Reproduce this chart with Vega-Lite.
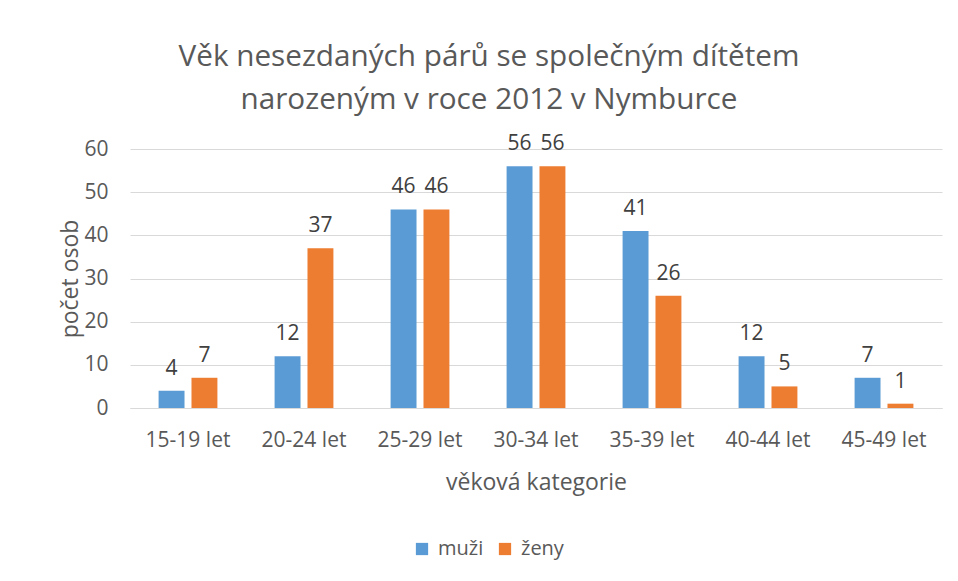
{
  "$schema": "https://vega.github.io/schema/vega-lite/v6.json",
  "autosize": "none",
  "width": 812,
  "height": 259,
  "padding": {"left": 130, "top": 149, "right": 16, "bottom": 173},
  "background": "white",
  "title": {
    "text": ["Věk nesezdaných párů se společným dítětem", "narozeným v roce 2012 v Nymburce"],
    "font": "Open Sans",
    "fontSize": 29.7,
    "fontWeight": "normal",
    "color": "#595959",
    "lineHeight": 43,
    "anchor": "middle",
    "dx": -47,
    "offset": 18
  },
  "data": {
    "values": [
      {"kat": "15-19 let", "pohlavi": "muži", "pocet": 4},
      {"kat": "15-19 let", "pohlavi": "ženy", "pocet": 7},
      {"kat": "20-24 let", "pohlavi": "muži", "pocet": 12},
      {"kat": "20-24 let", "pohlavi": "ženy", "pocet": 37},
      {"kat": "25-29 let", "pohlavi": "muži", "pocet": 46},
      {"kat": "25-29 let", "pohlavi": "ženy", "pocet": 46},
      {"kat": "30-34 let", "pohlavi": "muži", "pocet": 56},
      {"kat": "30-34 let", "pohlavi": "ženy", "pocet": 56},
      {"kat": "35-39 let", "pohlavi": "muži", "pocet": 41},
      {"kat": "35-39 let", "pohlavi": "ženy", "pocet": 26},
      {"kat": "40-44 let", "pohlavi": "muži", "pocet": 12},
      {"kat": "40-44 let", "pohlavi": "ženy", "pocet": 5},
      {"kat": "45-49 let", "pohlavi": "muži", "pocet": 7},
      {"kat": "45-49 let", "pohlavi": "ženy", "pocet": 1}
    ]
  },
  "encoding": {
    "x": {
      "field": "kat",
      "type": "nominal",
      "sort": null,
      "scale": {"paddingInner": 0.493, "paddingOuter": 0.2465},
      "axis": {
        "title": "věková kategorie",
        "labelAngle": 0,
        "labelFont": "Open Sans",
        "labelFontSize": 21,
        "labelColor": "#595959",
        "labelPadding": 21,
        "ticks": false,
        "domainColor": "#d9d9d9",
        "domainWidth": 1,
        "titleFont": "Open Sans",
        "titleFontSize": 23,
        "titleFontWeight": "normal",
        "titleColor": "#595959",
        "titlePadding": 21
      }
    },
    "xOffset": {
      "field": "pohlavi",
      "type": "nominal",
      "scale": {"paddingInner": 0.212, "paddingOuter": 0}
    },
    "y": {
      "field": "pocet",
      "type": "quantitative",
      "scale": {"domain": [0, 60], "nice": false},
      "axis": {
        "title": "počet osob",
        "values": [0, 10, 20, 30, 40, 50, 60],
        "labelFont": "Open Sans",
        "labelFontSize": 21,
        "labelColor": "#595959",
        "labelPadding": 22,
        "ticks": false,
        "domain": false,
        "gridColor": "#d9d9d9",
        "titleFont": "Open Sans",
        "titleFontSize": 23,
        "titleFontWeight": "normal",
        "titleColor": "#595959",
        "titlePadding": 1
      }
    }
  },
  "layer": [
    {
      "mark": {"type": "bar"},
      "encoding": {
        "color": {
          "field": "pohlavi",
          "type": "nominal",
          "scale": {"domain": ["muži", "ženy"], "range": ["#5B9BD5", "#ED7D31"]},
          "legend": {
            "title": null,
            "orient": "none",
            "legendX": 282,
            "legendY": 390,
            "direction": "horizontal",
            "symbolType": "square",
            "symbolSize": 150,
            "symbolStrokeWidth": 0,
            "labelFont": "Open Sans",
            "labelFontSize": 20,
            "labelColor": "#595959",
            "labelOffset": 6,
            "columnPadding": 11
          }
        }
      }
    },
    {
      "mark": {"type": "text", "baseline": "bottom", "dy": -12, "font": "Open Sans", "fontSize": 21, "color": "#404040"},
      "encoding": {
        "text": {"field": "pocet", "type": "quantitative"}
      }
    }
  ],
  "config": {
    "view": {"stroke": null}
  }
}
